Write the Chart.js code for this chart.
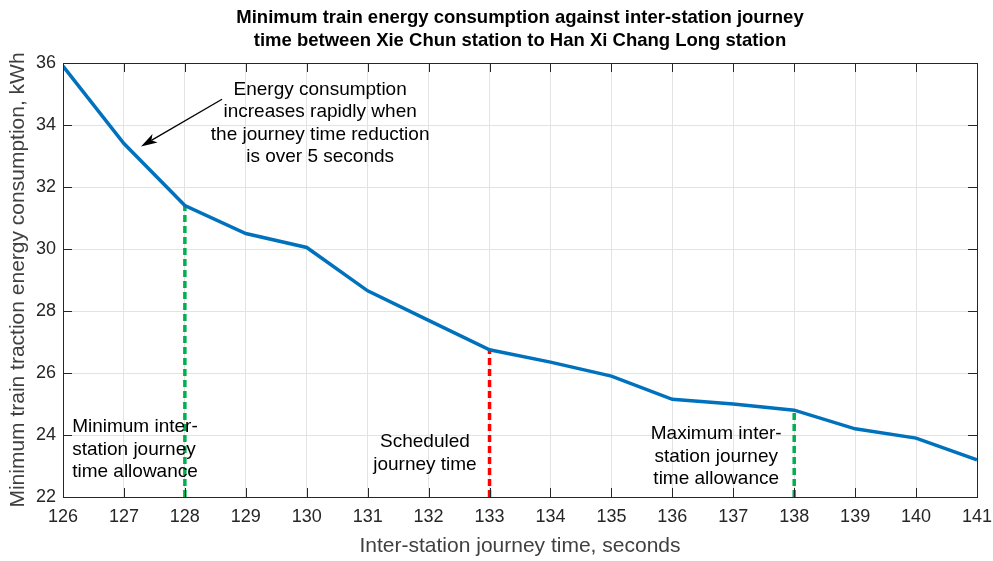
<!DOCTYPE html>
<html>
<head>
<meta charset="utf-8">
<script src="https://cdn.jsdelivr.net/npm/chart.js@4.4.1/dist/chart.umd.min.js"></script>
<style>
  html, body { margin: 0; padding: 0; background: #ffffff; }
  #wrap { width: 993px; height: 561px; position: relative; }
</style>
</head>
<body>
<div id="wrap"><canvas id="energyChart"></canvas></div>
<script>
// data
var journeyTime = [126, 127, 128, 129, 130, 131, 132, 133, 134, 135, 136, 137, 138, 139, 140, 141];
var energyKWh = [35.9, 33.4, 31.4, 30.5, 30.05, 28.65, 27.7, 26.75, 26.35, 25.9, 25.15, 25.0, 24.8, 24.2, 23.9, 23.2];
var xTicks = [126, 127, 128, 129, 130, 131, 132, 133, 134, 135, 136, 137, 138, 139, 140, 141];
var yTicks = [22, 24, 26, 28, 30, 32, 34, 36];

// vertical markers: min allowance, scheduled, max allowance
var markerTimes = [128, 133, 138];
var markerColors = ['#00b050', '#ff0000', '#00b050'];

var titleLines = ['Minimum train energy consumption against inter-station journey',
                  'time between Xie Chun station to Han Xi Chang Long station'];

// text notes, anchored in data coords
var notes = [
    { x: 130.22, y: 35.15, align: 'center', lines: ['Energy consumption', 'increases rapidly when', 'the journey time reduction', 'is over 5 seconds'] },
    { x: 126.15, y: 24.26, align: 'left', lines: ['Minimum inter-', 'station journey', 'time allowance'] },
    { x: 131.94, y: 23.77, align: 'center', lines: ['Scheduled', 'journey time'] },
    { x: 136.72, y: 24.03, align: 'center', lines: ['Maximum inter-', 'station journey', 'time allowance'] }
];
var arrowFrom = { x: 128.61, y: 34.83 };
var arrowTo = { x: 127.28, y: 33.31 };

var FONT = '"Liberation Sans", Arial, Helvetica, sans-serif';
var TXT = '#262626';

function energyAt(t) {
    return energyKWh[journeyTime.indexOf(t)];
}

var datasets = [{
    label: 'energy',
    data: journeyTime.map(function (t, i) { return { x: t, y: energyKWh[i] }; }),
    borderColor: '#0072bd',
    borderWidth: 3.5,
    pointRadius: 0,
    tension: 0,
    order: 0
}];
markerTimes.forEach(function (t, i) {
    datasets.push({
        label: 'marker' + t,
        data: [{ x: t, y: 22 }, { x: t, y: energyAt(t) }],
        borderColor: markerColors[i],
        borderWidth: 3.5,
        borderDash: [7, 4],
        pointRadius: 0,
        order: 1
    });
});

var overlayPlugin = {
    id: 'overlay',
    afterDatasetsDraw: function (chart) {
        var ctx = chart.ctx;
        var xs = chart.scales.x, ys = chart.scales.y;
        var a = chart.chartArea;
        ctx.save();

        // box + inward tick marks (matlab style)
        ctx.strokeStyle = '#262626';
        ctx.lineWidth = 1;
        ctx.strokeRect(Math.round(a.left) + 0.5, Math.round(a.top) + 0.5,
                       Math.round(a.right - a.left), Math.round(a.bottom - a.top));
        ctx.beginPath();
        xTicks.forEach(function (v) {
            var px = Math.round(xs.getPixelForValue(v)) + 0.5;
            ctx.moveTo(px, a.bottom); ctx.lineTo(px, a.bottom - 9);
            ctx.moveTo(px, a.top); ctx.lineTo(px, a.top + 9);
        });
        yTicks.forEach(function (v) {
            var py = Math.round(ys.getPixelForValue(v)) + 0.5;
            ctx.moveTo(a.left, py); ctx.lineTo(a.left + 9, py);
            ctx.moveTo(a.right, py); ctx.lineTo(a.right - 9, py);
        });
        ctx.stroke();

        // notes
        ctx.fillStyle = '#000000';
        ctx.font = '19px ' + FONT;
        ctx.textBaseline = 'middle';
        notes.forEach(function (n) {
            var px = xs.getPixelForValue(n.x);
            var py = ys.getPixelForValue(n.y);
            ctx.textAlign = n.align;
            n.lines.forEach(function (line, k) {
                ctx.fillText(line, px, py + k * 22.5);
            });
        });

        // arrow
        var x1 = xs.getPixelForValue(arrowFrom.x), y1 = ys.getPixelForValue(arrowFrom.y);
        var x2 = xs.getPixelForValue(arrowTo.x), y2 = ys.getPixelForValue(arrowTo.y);
        var ang = Math.atan2(y2 - y1, x2 - x1);
        ctx.strokeStyle = '#000000';
        ctx.lineWidth = 1.3;
        ctx.beginPath();
        ctx.moveTo(x1, y1);
        ctx.lineTo(x2 - 12 * Math.cos(ang), y2 - 12 * Math.sin(ang));
        ctx.stroke();
        ctx.fillStyle = '#000000';
        ctx.beginPath();
        ctx.moveTo(x2, y2);
        ctx.lineTo(x2 - 17 * Math.cos(ang - 0.3), y2 - 17 * Math.sin(ang - 0.3));
        ctx.lineTo(x2 - 12 * Math.cos(ang), y2 - 12 * Math.sin(ang));
        ctx.lineTo(x2 - 17 * Math.cos(ang + 0.3), y2 - 17 * Math.sin(ang + 0.3));
        ctx.closePath();
        ctx.fill();

        // title
        ctx.fillStyle = '#000000';
        ctx.font = 'bold 18.5px ' + FONT;
        ctx.textAlign = 'center';
        titleLines.forEach(function (line, k) {
            ctx.fillText(line, (a.left + a.right) / 2, 18 + k * 22.5);
        });
        ctx.restore();
    }
};

new Chart(document.getElementById('energyChart'), {
    type: 'line',
    data: { datasets: datasets },
    options: {
        responsive: true,
        maintainAspectRatio: false,
        animation: false,
        layout: { padding: { top: 63, right: 16, left: 0, bottom: 0 } },
        plugins: {
            legend: { display: false },
            tooltip: { enabled: false }
        },
        scales: {
            x: {
                type: 'linear',
                min: 126,
                max: 141,
                afterFit: function (s) { s.height = 64; s.paddingLeft = 0; s.paddingRight = 0; },
                afterBuildTicks: function (s) { s.ticks = xTicks.map(function (v) { return { value: v }; }); },
                grid: { color: '#e3e3e3', drawTicks: false },
                border: { display: false },
                ticks: { color: TXT, padding: 9, font: { family: FONT, size: 18 } },
                title: {
                    display: true,
                    text: 'Inter-station journey time, seconds',
                    color: '#404040',
                    font: { family: FONT, size: 21 },
                    padding: { top: 0, bottom: 2 }
                }
            },
            y: {
                min: 22,
                max: 36,
                afterFit: function (s) { s.width = 63; s.paddingTop = 0; s.paddingBottom = 0; },
                afterBuildTicks: function (s) { s.ticks = yTicks.map(function (v) { return { value: v }; }); },
                grid: { color: '#e3e3e3', drawTicks: false },
                border: { display: false },
                ticks: { color: TXT, padding: 7, font: { family: FONT, size: 18 } },
                title: {
                    display: true,
                    text: 'Minimum train traction energy consumption, kWh',
                    color: '#404040',
                    font: { family: FONT, size: 21 },
                    padding: { top: 6, bottom: 0 }
                }
            }
        }
    },
    plugins: [overlayPlugin]
});
</script>
</body>
</html>
